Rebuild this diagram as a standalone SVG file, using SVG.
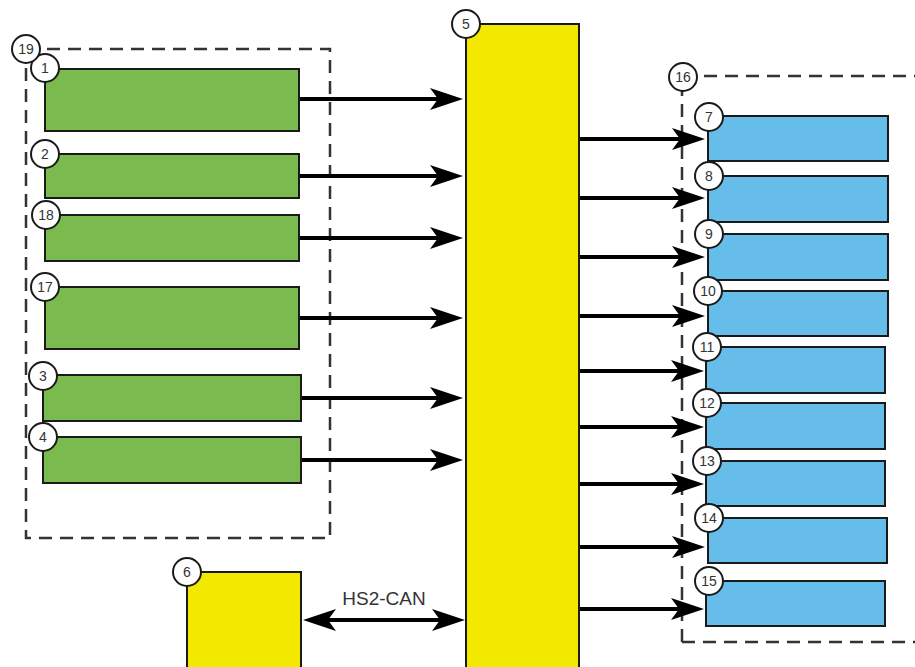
<svg xmlns="http://www.w3.org/2000/svg" width="915" height="667" viewBox="0 0 915 667">
<defs>
<style>
.g{fill:#7aba4e;stroke:#1a1a1a;stroke-width:2}
.y{fill:#f3e800;stroke:#1a1a1a;stroke-width:2}
.b{fill:#67bde9;stroke:#1a1a1a;stroke-width:2}
.dash{fill:none;stroke:#333;stroke-width:2.5;stroke-dasharray:13 8}
.c{fill:#fff;stroke:#1a1a1a;stroke-width:2}
.n{font-family:"Liberation Sans",Arial,sans-serif;font-size:14px;fill:#333;text-anchor:middle}
.a{stroke:#000;stroke-width:4;fill:none;marker-end:url(#ah)}
.lbl{font-family:"Liberation Sans",Arial,sans-serif;font-size:19px;fill:#333;text-anchor:middle}
</style>
<marker id="ah" markerUnits="userSpaceOnUse" markerWidth="36" markerHeight="24" refX="13" refY="11" orient="auto-start-reverse" viewBox="0 0 36 24">
<path d="M0,0 L33,11 L0,22 L8,11 Z" fill="#000"/>
</marker>
</defs>

<g id="group19">
<rect class="dash" x="26" y="49" width="304" height="489"/>
</g>
<g id="group16">
<path class="dash" d="M682,642 V76 H930"/>
<path class="dash" d="M682,642 H930"/>
</g>

<g id="connectors">
<line class="a" x1="300" y1="99" x2="443" y2="99"/>
<line class="a" x1="300" y1="176" x2="443" y2="176"/>
<line class="a" x1="300" y1="238" x2="443" y2="238"/>
<line class="a" x1="300" y1="318" x2="443" y2="318"/>
<line class="a" x1="302" y1="398" x2="443" y2="398"/>
<line class="a" x1="302" y1="460" x2="443" y2="460"/>
<line class="a" x1="580" y1="139" x2="685" y2="139"/>
<line class="a" x1="580" y1="198" x2="685" y2="198"/>
<line class="a" x1="580" y1="257" x2="685" y2="257"/>
<line class="a" x1="580" y1="316" x2="685" y2="316"/>
<line class="a" x1="580" y1="371" x2="684" y2="371"/>
<line class="a" x1="580" y1="427" x2="684" y2="427"/>
<line class="a" x1="580" y1="484" x2="684" y2="484"/>
<line class="a" x1="580" y1="547" x2="685" y2="547"/>
<line class="a" x1="580" y1="609" x2="684" y2="609"/>
<line class="a" x1="323" y1="620" x2="445" y2="620" style="marker-start:url(#ah)"/>
<text class="lbl" x="384" y="605">HS2-CAN</text>
</g>

<g id="n1"><rect class="g" x="45" y="69" width="254" height="62"/><circle class="c" cx="45" cy="68" r="14"/><text class="n" x="45" y="73">1</text></g>
<g id="n2"><rect class="g" x="45" y="154" width="254" height="44"/><circle class="c" cx="45" cy="154" r="14"/><text class="n" x="45" y="159">2</text></g>
<g id="n18"><rect class="g" x="45" y="215" width="254" height="46"/><circle class="c" cx="46" cy="215" r="14"/><text class="n" x="46" y="220">18</text></g>
<g id="n17"><rect class="g" x="45" y="287" width="254" height="62"/><circle class="c" cx="45" cy="287" r="14"/><text class="n" x="45" y="292">17</text></g>
<g id="n3"><rect class="g" x="43" y="375" width="258" height="46"/><circle class="c" cx="43" cy="376" r="14"/><text class="n" x="43" y="381">3</text></g>
<g id="n4"><rect class="g" x="43" y="437" width="258" height="46"/><circle class="c" cx="43" cy="437" r="14"/><text class="n" x="43" y="442">4</text></g>
<g id="n19c"><circle class="c" cx="26" cy="49" r="14"/><text class="n" x="26" y="54">19</text></g>

<g id="n5"><rect class="y" x="466" y="24" width="113" height="660"/><circle class="c" cx="466" cy="24" r="14"/><text class="n" x="466" y="29">5</text></g>
<g id="n6"><rect class="y" x="187" y="572" width="114" height="110"/><circle class="c" cx="187" cy="572" r="14"/><text class="n" x="187" y="577">6</text></g>

<g id="n16c"><circle class="c" cx="683" cy="77" r="14"/><text class="n" x="683" y="82">16</text></g>
<g id="n7"><rect class="b" x="708" y="116" width="180" height="45"/><circle class="c" cx="709" cy="117" r="14"/><text class="n" x="709" y="122">7</text></g>
<g id="n8"><rect class="b" x="708" y="176" width="180" height="46"/><circle class="c" cx="709" cy="176" r="14"/><text class="n" x="709" y="181">8</text></g>
<g id="n9"><rect class="b" x="708" y="234" width="180" height="46"/><circle class="c" cx="709" cy="234" r="14"/><text class="n" x="709" y="239">9</text></g>
<g id="n10"><rect class="b" x="708" y="291" width="180" height="45"/><circle class="c" cx="708" cy="291" r="14"/><text class="n" x="708" y="296">10</text></g>
<g id="n11"><rect class="b" x="706" y="347" width="179" height="46"/><circle class="c" cx="707" cy="347" r="14"/><text class="n" x="707" y="352">11</text></g>
<g id="n12"><rect class="b" x="706" y="403" width="179" height="46"/><circle class="c" cx="707" cy="403" r="14"/><text class="n" x="707" y="408">12</text></g>
<g id="n13"><rect class="b" x="706" y="461" width="179" height="45"/><circle class="c" cx="707" cy="461" r="14"/><text class="n" x="707" y="466">13</text></g>
<g id="n14"><rect class="b" x="708" y="518" width="179" height="45"/><circle class="c" cx="709" cy="518" r="14"/><text class="n" x="709" y="523">14</text></g>
<g id="n15"><rect class="b" x="706" y="581" width="179" height="45"/><circle class="c" cx="709" cy="581" r="14"/><text class="n" x="709" y="586">15</text></g>
</svg>
